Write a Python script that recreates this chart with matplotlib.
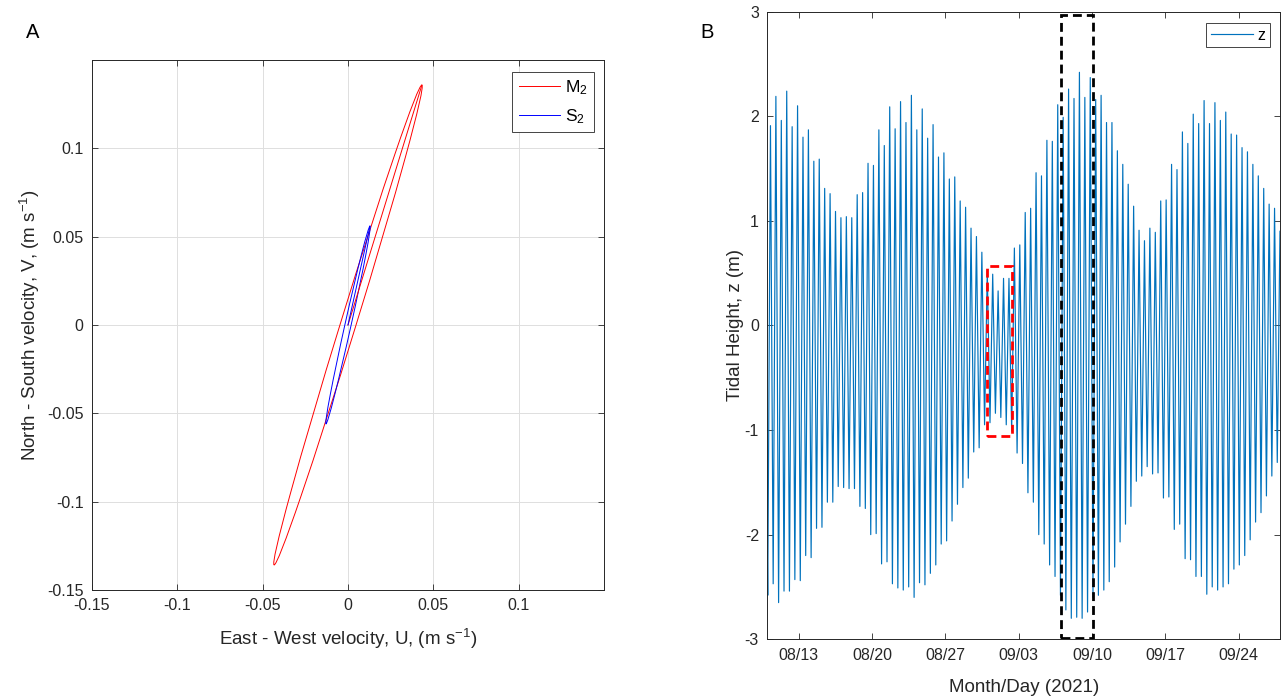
import numpy as np
import pandas as pd
import matplotlib
matplotlib.use("Agg")
import matplotlib.pyplot as plt
import matplotlib.dates as mdates
from matplotlib.patches import Ellipse, Rectangle

plt.rcParams['font.family'] = ['Liberation Sans', 'DejaVu Sans']
plt.rcParams['mathtext.default'] = 'regular'
plt.rcParams['axes.unicode_minus'] = False

# ---- panel A: tidal current ellipses ----
ellipse_names = ["M$_2$", "S$_2$"]
ellipse_colors = ["red", "blue"]
major_tip_u = [0.0433, 0.0129]    # U at the end of the major axis (m/s)
major_tip_v = [0.1358, 0.0560]    # V at the end of the major axis (m/s)
minor_semi = [0.0045, 0.0018]     # semi-minor axis (m/s)

vel_ticks = [-0.15, -0.1, -0.05, 0, 0.05, 0.1]
vel_ticklabels = ["-0.15", "-0.1", "-0.05", "0", "0.05", "0.1"]

# ---- panel B: tidal height, successive low and high waters (m) ----
z_start = -2.16
low_water = [
    -2.58, -2.47, -2.65, -2.54, -2.54, -2.43, -2.44, -2.20, -2.22, -1.94,
    -1.93, -1.69, -1.69, -1.54, -1.55, -1.56, -1.56, -1.73, -1.75, -2.00,
    -1.99, -2.28, -2.26, -2.47, -2.51, -2.53, -2.50, -2.60, -2.46, -2.48,
    -2.37, -2.29, -2.09, -2.06, -1.87, -1.71, -1.55, -1.46, -1.21, -1.17,
    -0.95, -0.93, -0.84, -0.88, -0.95, -1.01, -1.22, -1.32, -1.60, -1.69,
    -2.00, -2.09, -2.29, -2.40, -2.58, -2.72, -2.80, -2.79, -2.80, -2.74,
    -2.60, -2.58, -2.53, -2.45, -2.31, -2.07, -1.90, -1.73, -1.49, -1.44,
    -1.35, -1.42, -1.41, -1.65, -1.64, -1.95, -1.90, -2.23, -2.24, -2.40,
    -2.40, -2.57, -2.50, -2.53, -2.50, -2.47, -2.33, -2.29, -2.20, -2.05,
    -1.88, -1.79, -1.63, -1.44, -1.31,
]
high_water = [
    1.91, 2.19, 1.96, 2.24, 1.90, 2.10, 1.80, 1.87, 1.57, 1.59,
    1.31, 1.26, 1.09, 1.03, 1.04, 1.03, 1.25, 1.27, 1.55, 1.53,
    1.87, 1.72, 2.09, 1.88, 2.14, 1.94, 2.20, 1.87, 2.07, 1.79,
    1.92, 1.61, 1.65, 1.40, 1.42, 1.19, 1.13, 0.93, 0.85, 0.70,
    0.52, 0.49, 0.33, 0.45, 0.45, 0.74, 0.77, 1.08, 1.12, 1.46,
    1.43, 1.77, 1.76, 2.11, 1.99, 2.26, 2.17, 2.42, 2.18, 2.37,
    2.16, 2.20, 1.94, 1.94, 1.67, 1.54, 1.35, 1.14, 0.91, 0.81,
    0.93, 0.89, 1.19, 1.20, 1.54, 1.49, 1.85, 1.74, 2.02, 1.93,
    2.15, 1.93, 2.13, 1.96, 2.04, 1.83, 1.82, 1.70, 1.66, 1.54,
    1.43, 1.31, 1.16, 1.12, 0.90,
]
record_start = "2021-08-10 00:00"
first_low = "2021-08-10 01:00"
half_tide_hours = 6.21

red_box_time = ["2021-08-30 22:30", "2021-09-02 08:00"]
red_box_z = [-1.06, 0.57]
black_box_time = ["2021-09-07 01:00", "2021-09-10 03:00"]
black_box_z = [-2.99, 2.97]

date_ticks = ["2021-08-13", "2021-08-20", "2021-08-27", "2021-09-03",
              "2021-09-10", "2021-09-17", "2021-09-24"]

AXC = "#262626"


def style_axes(ax):
    for s in ax.spines.values():
        s.set_color(AXC)
        s.set_linewidth(0.7)
    ax.tick_params(direction="in", top=True, right=True, length=4,
                   width=0.6, color=AXC, labelsize=11.5, labelcolor=AXC, pad=6)


fig = plt.figure(figsize=(12.81, 6.97), dpi=100)

# ---------------- panel A ----------------
ax1 = fig.add_axes([0.0718, 0.1535, 0.3997, 0.7604])
for name, col, u, v, b in zip(ellipse_names, ellipse_colors, major_tip_u, major_tip_v, minor_semi):
    a = np.hypot(u, v)
    ang = np.degrees(np.arctan2(v, u))
    ax1.add_patch(Ellipse((0, 0), 2 * a, 2 * b, angle=ang, fill=False,
                          edgecolor=col, linewidth=0.7))
    ax1.plot([0, u], [0, v], color=col, linewidth=0.7, label=name)

ax1.set_xlim(-0.15, 0.15)
ax1.set_ylim(-0.15, 0.15)
ax1.set_xticks(vel_ticks)
ax1.set_xticklabels(vel_ticklabels)
ax1.set_yticks(vel_ticks)
ax1.set_yticklabels(vel_ticklabels)
ax1.grid(True, color="#dedede", linewidth=0.7)
ax1.set_axisbelow(True)
style_axes(ax1)
ax1.set_xlabel("East - West velocity, U, (m s$^{-1}$)", fontsize=13.5, color=AXC, labelpad=10)
ax1.set_ylabel("North - South velocity, V, (m s$^{-1}$)", fontsize=13.5, color=AXC, labelpad=4)
leg1 = ax1.legend(loc="upper right", bbox_to_anchor=(0.981, 0.977), borderaxespad=0,
                  fontsize=12.5, fancybox=False, framealpha=1, edgecolor=AXC,
                  handlelength=2.4, handletextpad=0.3, labelspacing=0.6,
                  borderpad=0.35)
leg1.get_frame().set_linewidth(0.6)

# ---------------- panel B ----------------
ax2 = fig.add_axes([0.599, 0.0829, 0.4002, 0.9004])
t0 = pd.Timestamp(record_start)
tl = pd.Timestamp(first_low)
step = pd.Timedelta(hours=half_tide_hours)
z = [z_start]
times = [t0]
for k, (lo, hi) in enumerate(zip(low_water, high_water)):
    z += [lo, hi]
    times += [tl + 2 * k * step, tl + (2 * k + 1) * step]
ax2.plot(times, z, color="#0072BD", linewidth=0.85, label="z")

for box_t, box_z, col in [(red_box_time, red_box_z, "red"), (black_box_time, black_box_z, "black")]:
    x0 = mdates.date2num(pd.Timestamp(box_t[0]))
    x1 = mdates.date2num(pd.Timestamp(box_t[1]))
    ax2.add_patch(Rectangle((x0, box_z[0]), x1 - x0, box_z[1] - box_z[0], fill=False,
                            edgecolor=col, linewidth=2.0, linestyle=(0, (3.2, 1.8)),
                            zorder=5))

ax2.set_xlim(times[0], times[-1])
ax2.set_ylim(-3, 3)
ax2.set_yticks(range(-3, 4))
ax2.set_xticks([pd.Timestamp(d) for d in date_ticks])
ax2.xaxis.set_major_formatter(mdates.DateFormatter("%m/%d"))
style_axes(ax2)
ax2.set_xlabel("Month/Day (2021)", fontsize=13.5, color=AXC, labelpad=12)
ax2.set_ylabel("Tidal Height, z (m)", fontsize=13.5, color=AXC, labelpad=0.5)
leg2 = ax2.legend(loc="upper right", bbox_to_anchor=(0.9805, 0.9823), borderaxespad=0,
                  fontsize=11.5, fancybox=False, framealpha=1, edgecolor=AXC,
                  handlelength=2.6, handletextpad=0.3, borderpad=0.3)
leg2.get_frame().set_linewidth(0.6)

fig.text(33 / 1281, 1 - 33 / 697, "A", fontsize=14.5, ha="center", va="center")
fig.text(707 / 1281, 1 - 33 / 697, "B", fontsize=14.5, ha="center", va="center")

fig.savefig("out.png", dpi=100)
